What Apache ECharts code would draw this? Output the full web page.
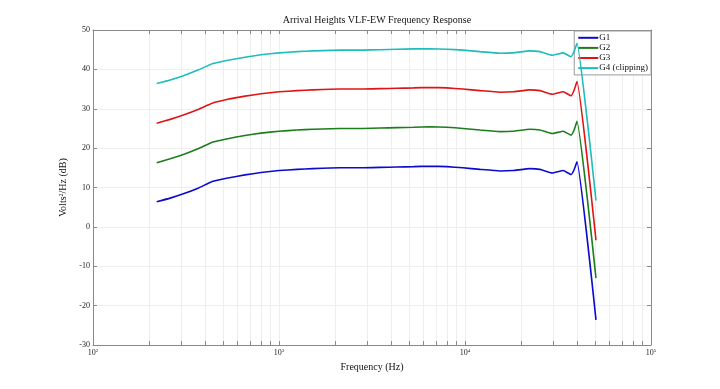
<!DOCTYPE html>
<html>
<head>
<meta charset="utf-8">
<script src="https://cdn.jsdelivr.net/npm/echarts@6/dist/echarts.min.js"></script>
<style>html,body{margin:0;padding:0;background:#fff}#c{width:720px;height:389px}</style>
</head>
<body>
<div id="c"></div>
<script>
// ---- data ----
var freqHz = [220, 260, 306, 370, 437, 530, 656, 800, 1000, 1250, 1520, 2130, 2830, 3500, 4300, 5300, 6490, 8000, 9750, 12050, 15400, 18100, 22350, 25300, 29400, 33700, 37200, 38600, 40000, 50600];
var G1 = [6.4, 7.3, 8.4, 9.9, 11.5, 12.4, 13.2, 13.8, 14.3, 14.6, 14.8, 15.0, 15.0, 15.1, 15.2, 15.3, 15.4, 15.3, 15.0, 14.6, 14.2, 14.3, 14.8, 14.6, 13.7, 14.3, 13.3, 14.5, 16.5, -23.6];
var G2 = [16.3, 17.3, 18.4, 19.9, 21.5, 22.4, 23.2, 23.8, 24.3, 24.6, 24.8, 25.0, 25.0, 25.1, 25.2, 25.3, 25.4, 25.3, 25.0, 24.6, 24.2, 24.3, 24.8, 24.6, 23.7, 24.3, 23.3, 24.6, 26.8, -13.0];
var G3 = [26.3, 27.3, 28.4, 29.9, 31.4, 32.4, 33.2, 33.8, 34.3, 34.6, 34.8, 35.0, 35.0, 35.1, 35.2, 35.3, 35.4, 35.3, 35.0, 34.6, 34.2, 34.3, 34.8, 34.6, 33.7, 34.3, 33.3, 34.7, 36.9, -3.4];
var G4 = [36.4, 37.3, 38.4, 39.9, 41.4, 42.3, 43.1, 43.7, 44.2, 44.5, 44.7, 44.9, 44.9, 45.0, 45.1, 45.2, 45.2, 45.1, 44.9, 44.5, 44.1, 44.2, 44.7, 44.5, 43.6, 44.2, 43.2, 44.6, 46.6, 6.7];
var seriesNames = ['G1', 'G2', 'G3', 'G4 (clipping)'];
var majorTicks = [100, 1000, 10000, 100000];
var allTicks = [100, 200, 300, 400, 500, 600, 700, 800, 900, 1000, 2000, 3000, 4000, 5000, 6000, 7000, 8000, 9000, 10000, 20000, 30000, 40000, 50000, 60000, 70000, 80000, 90000, 100000];

var colors = ['#0b0bd0', '#1c7d1c', '#e01414', '#1fbcbc'];
var serif = 'Liberation Serif';
function pairs(vals){ return freqHz.map(function(f,i){ return [f, vals[i]]; }); }
var allVals = [G1, G2, G3, G4];

var axisGray = '#8a8a8a';
var gridGray = '#eeeeee';
var supRich = {
  b: {fontFamily: serif, fontSize: 8, color: '#222', verticalAlign: 'bottom'},
  s: {fontFamily: serif, fontSize: 5, color: '#222', verticalAlign: 'bottom', padding: [0,0,4,0]}
};

var chart = echarts.init(document.getElementById('c'), null, {renderer: 'canvas'});
chart.setOption({
  backgroundColor: '#fff',
  animation: false,
  title: {
    text: 'Arrival Heights VLF-EW Frequency Response',
    left: 372, top: 10, textAlign: 'center',
    textStyle: {fontFamily: serif, fontSize: 10, fontWeight: 'normal', color: '#111'}
  },
  legend: {
    data: seriesNames,
    right: 69, top: 31,
    orient: 'vertical',
    itemWidth: 20, itemHeight: 6, itemGap: 0.5,
    padding: [2, 3, 2, 3],
    backgroundColor: '#fff',
    borderColor: '#9a9a9a', borderWidth: 1, borderRadius: 0,
    itemStyle: {opacity: 0},
    textStyle: {fontFamily: serif, fontSize: 9, color: '#111', padding: [0,0,0,-4], lineHeight: 9.6}
  },
  grid: {left: 93, right: 69, top: 30, bottom: 44},
  xAxis: [{
    type: 'log', logBase: 10, min: 100, max: 100000, position: 'bottom',
    name: 'Frequency (Hz)', nameLocation: 'middle', nameGap: 17,
    nameTextStyle: {fontFamily: serif, fontSize: 10, color: '#111'},
    axisLine: {show: true, onZero: false, lineStyle: {color: axisGray, width: 1}},
    axisTick: {show: true, inside: true, length: 4, customValues: allTicks, lineStyle: {color: axisGray}},
    minorTick: {show: false},
    axisLabel: {show: true, customValues: majorTicks, margin: 3,
      formatter: function(v){ return '{b|10}{s|' + Math.round(Math.log10(v)) + '}'; },
      rich: supRich},
    splitLine: {show: true, lineStyle: {color: gridGray, width: 1}}
  }, {
    type: 'log', logBase: 10, min: 100, max: 100000, position: 'top',
    axisLine: {show: true, onZero: false, lineStyle: {color: axisGray, width: 1}},
    axisTick: {show: true, inside: true, length: 4, customValues: allTicks, lineStyle: {color: axisGray}},
    axisLabel: {show: false},
    splitLine: {show: false}
  }],
  yAxis: [{
    type: 'value', min: -30, max: 50, interval: 10, position: 'left',
    name: 'Volts{s|2}/Hz (dB)', nameLocation: 'middle', nameGap: 20, nameRotate: 90,
    nameTextStyle: {fontFamily: serif, fontSize: 10, color: '#111',
      rich: {s: {fontFamily: serif, fontSize: 6, color: '#111', verticalAlign: 'bottom', padding: [0,0,5,0]}}},
    axisLine: {show: true, onZero: false, lineStyle: {color: axisGray, width: 1}},
    axisTick: {show: true, inside: true, length: 4, lineStyle: {color: axisGray}},
    axisLabel: {fontFamily: serif, fontSize: 8, color: '#222', margin: 3},
    splitLine: {show: true, lineStyle: {color: gridGray, width: 1}}
  }, {
    type: 'value', min: -30, max: 50, interval: 10, position: 'right',
    axisLine: {show: true, onZero: false, lineStyle: {color: axisGray, width: 1}},
    axisTick: {show: true, inside: true, length: 4, lineStyle: {color: axisGray}},
    axisLabel: {show: false},
    splitLine: {show: false}
  }],
  series: seriesNames.map(function(n, k){
    return {
      name: n, type: 'line', xAxisIndex: 0, yAxisIndex: 0,
      data: pairs(allVals[k]),
      symbol: 'none', showSymbol: false, smooth: 0.12,
      color: colors[k],
      lineStyle: {color: colors[k], width: 1.6},
      z: 2 + k
    };
  })
});
</script>
</body>
</html>
